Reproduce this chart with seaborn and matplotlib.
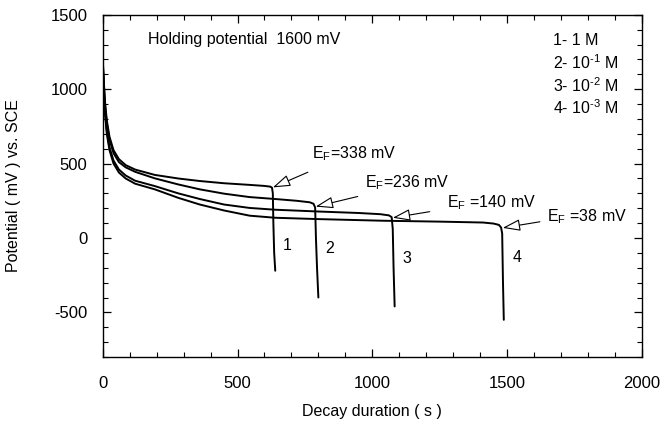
import numpy as np
import pandas as pd
import matplotlib
matplotlib.use("Agg")
import matplotlib.pyplot as plt
import seaborn as sns

# ---- data ----
t1 = [0, 3, 8, 15, 25, 40, 60, 85, 120, 193, 280, 360, 450, 545, 600, 622, 628, 631, 633, 636, 640]
v1 = [1200, 1080, 920, 790, 680, 590, 530, 490, 460, 424, 400, 383, 368, 357, 350, 345, 338, 300, 100, -100, -220]

t2 = [0, 3, 8, 15, 25, 40, 60, 85, 120, 193, 280, 360, 450, 545, 640, 720, 768, 782, 788, 791, 795, 800]
v2 = [1200, 1070, 900, 770, 660, 570, 510, 475, 445, 401, 360, 327, 298, 275, 262, 250, 240, 230, 205, 0, -200, -400]

t3 = [0, 3, 8, 15, 25, 40, 60, 85, 120, 193, 280, 360, 450, 545, 640, 800, 950, 1030, 1062, 1072, 1076, 1079, 1083]
v3 = [1180, 1040, 860, 720, 610, 520, 460, 420, 385, 349, 300, 262, 225, 202, 190, 178, 168, 160, 152, 140, 60, -200, -460]

t4 = [0, 3, 8, 15, 25, 40, 60, 85, 120, 193, 280, 360, 450, 545, 640, 800, 1040, 1250, 1411, 1450, 1470, 1478, 1482, 1485, 1488]
v4 = [1170, 1020, 840, 700, 590, 500, 440, 400, 365, 327, 270, 225, 185, 150, 136, 127, 116, 110, 104, 97, 88, 70, 30, -300, -550]

curve_ids = ["1", "2", "3", "4"]
legend_lines = ["1- 1 M", "2- 10$^{\\text{-}1}$ M", "3- 10$^{\\text{-}2}$ M", "4- 10$^{\\text{-}3}$ M"]
ef_labels = ["E$_{\\mathrm{F}}$=338 mV", "E$_{\\mathrm{F}}$=236 mV", "E$_{\\mathrm{F}}$ =140 mV", "E$_{\\mathrm{F}}$ =38 mV"]
ef_heads_x = [631, 790, 1076, 1484]
ef_heads_y = [340, 211, 136, 68]
ef_tails_x = [761, 946, 1213, 1622]
ef_tails_y = [442, 279, 177, 109]
ef_text_x = [778, 972, 1277, 1648]
ef_text_y = [565, 374, 238, 143]
num_x = [683, 842, 1128, 1536]
num_y = [-48, -68, -136, -129]
title_text = "Holding potential  1600 mV"

frames = []
for cid, t, v in zip(curve_ids, [t1, t2, t3, t4], [v1, v2, v3, v4]):
    frames.append(pd.DataFrame({"t": t, "v": v, "curve": cid}))
df = pd.concat(frames, ignore_index=True)

sns.set_theme(style="white")
plt.rcParams["font.family"] = ["Liberation Sans", "DejaVu Sans"]
plt.rcParams["mathtext.fontset"] = "custom"
plt.rcParams["mathtext.rm"] = "Liberation Sans"
plt.rcParams["mathtext.it"] = "Liberation Sans"
plt.rcParams["mathtext.bf"] = "Liberation Sans"
plt.rcParams["text.color"] = "black"
plt.rcParams["axes.labelcolor"] = "black"
plt.rcParams["xtick.color"] = "black"
plt.rcParams["ytick.color"] = "black"
plt.rcParams["axes.unicode_minus"] = False

FS = 11.5
fig = plt.figure(figsize=(6.63, 4.24), dpi=100)
ax = fig.add_axes([0.155, 0.158, 0.813, 0.807])

sns.lineplot(data=df, x="t", y="v", units="curve", estimator=None, sort=False,
             color="black", linewidth=1.4, ax=ax, legend=False)

ax.set_xlim(0, 2000)
ax.set_ylim(-800, 1500)
ax.set_xticks([0, 500, 1000, 1500, 2000])
ax.set_yticks([-500, 0, 500, 1000, 1500])
ax.set_xticks(np.arange(0, 2001, 100), minor=True)
ax.set_yticks(np.arange(-800, 1501, 100), minor=True)
ax.tick_params(which="both", direction="in", top=True, right=True, bottom=True, left=True,
               colors="black", labelcolor="black", labelsize=12)
ax.tick_params(which="major", length=6, width=0.9)
ax.tick_params(which="minor", length=3.5, width=0.8)
ax.tick_params(axis="y", which="major", pad=11)
ax.tick_params(axis="x", which="major", pad=14)
for s in ax.spines.values():
    s.set_color("black")
    s.set_linewidth(1.0)

ax.set_xlabel("Decay duration ( s )", fontsize=FS, labelpad=9, color="black")
ax.set_ylabel("Potential ( mV ) vs. SCE", fontsize=FS, labelpad=21, color="black")

ax.text(167, 1335, title_text, fontsize=FS, ha="left", va="center", color="black")
for i, line in enumerate(legend_lines):
    ax.text(1670, 1329 - i * 152, line, fontsize=FS, ha="left", va="center", color="black")

for lab, hx, hy, tx, ty, xx, yy in zip(ef_labels, ef_heads_x, ef_heads_y, ef_tails_x, ef_tails_y, ef_text_x, ef_text_y):
    ax.annotate("", xy=(hx, hy), xytext=(tx, ty),
                arrowprops=dict(arrowstyle="-|>,head_length=0.9,head_width=0.3", fc="white", ec="black",
                                lw=0.8, shrinkA=0, shrinkB=0))
    ax.text(xx, yy, lab, fontsize=FS, ha="left", va="center", color="black")

for cid, x, y in zip(curve_ids, num_x, num_y):
    ax.text(x, y, cid, fontsize=FS, ha="center", va="center", color="black")

fig.savefig("out.png", dpi=100)
